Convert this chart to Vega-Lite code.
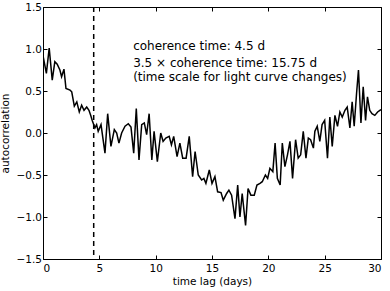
{
  "$schema": "https://vega.github.io/schema/vega-lite/v6.json",
  "width": 338,
  "height": 252,
  "autosize": {"type": "none"},
  "padding": {"left": 43, "top": 7, "right": 9, "bottom": 32},
  "config": {
    "font": "DejaVu Sans",
    "view": {"stroke": "black", "strokeWidth": 1},
    "axis": {
      "domain": false,
      "grid": false,
      "tickColor": "black",
      "tickSize": -4,
      "tickWidth": 1,
      "labelFontSize": 10.5,
      "labelColor": "black",
      "titleFontSize": 10.5,
      "titleFontWeight": "normal",
      "titleColor": "black",
      "labelFont": "DejaVu Sans",
      "titleFont": "DejaVu Sans"
    }
  },
  "datasets": {
    "acf": [
      {"lag": 0.0, "r": 0.92}, {"lag": 0.3, "r": 0.71}, {"lag": 0.55, "r": 1.01}, {"lag": 0.82, "r": 0.63},
      {"lag": 1.05, "r": 0.85}, {"lag": 1.26, "r": 0.82}, {"lag": 1.5, "r": 0.75}, {"lag": 1.65, "r": 0.67},
      {"lag": 1.86, "r": 0.76}, {"lag": 2.04, "r": 0.53}, {"lag": 2.4, "r": 0.51}, {"lag": 2.55, "r": 0.49},
      {"lag": 2.78, "r": 0.32}, {"lag": 3.0, "r": 0.37}, {"lag": 3.22, "r": 0.25}, {"lag": 3.43, "r": 0.33},
      {"lag": 3.64, "r": 0.27}, {"lag": 3.88, "r": 0.31}, {"lag": 4.08, "r": 0.27}, {"lag": 4.23, "r": 0.21},
      {"lag": 4.37, "r": 0.15}, {"lag": 4.61, "r": 0.06}, {"lag": 4.76, "r": 0.1}, {"lag": 4.9, "r": 0.02},
      {"lag": 5.15, "r": 0.1}, {"lag": 5.5, "r": -0.24}, {"lag": 5.74, "r": 0.23}, {"lag": 6.03, "r": -0.16},
      {"lag": 6.33, "r": 0.04}, {"lag": 6.54, "r": 0.0}, {"lag": 6.74, "r": -0.12}, {"lag": 6.98, "r": 0.0},
      {"lag": 7.28, "r": 0.08}, {"lag": 7.57, "r": 0.11}, {"lag": 7.81, "r": 0.07}, {"lag": 8.05, "r": -0.24},
      {"lag": 8.28, "r": 0.29}, {"lag": 8.52, "r": -0.32}, {"lag": 8.76, "r": 0.1}, {"lag": 8.99, "r": 0.12},
      {"lag": 9.2, "r": -0.02}, {"lag": 9.42, "r": 0.23}, {"lag": 9.66, "r": -0.32}, {"lag": 9.86, "r": 0.02},
      {"lag": 10.15, "r": -0.34}, {"lag": 10.45, "r": 0.0}, {"lag": 10.66, "r": -0.1}, {"lag": 10.9, "r": -0.06},
      {"lag": 11.2, "r": -0.04}, {"lag": 11.4, "r": -0.14}, {"lag": 11.6, "r": -0.04}, {"lag": 11.9, "r": -0.28},
      {"lag": 12.15, "r": -0.12}, {"lag": 12.4, "r": -0.3}, {"lag": 12.7, "r": -0.3}, {"lag": 12.98, "r": -0.04},
      {"lag": 13.28, "r": -0.52}, {"lag": 13.5, "r": -0.22}, {"lag": 13.78, "r": -0.5}, {"lag": 14.08, "r": -0.56},
      {"lag": 14.28, "r": -0.54}, {"lag": 14.46, "r": -0.6}, {"lag": 14.76, "r": -0.44}, {"lag": 15.0, "r": -0.6},
      {"lag": 15.26, "r": -0.52}, {"lag": 15.5, "r": -0.7}, {"lag": 15.8, "r": -0.71}, {"lag": 16.0, "r": -0.8},
      {"lag": 16.3, "r": -0.72}, {"lag": 16.5, "r": -0.68}, {"lag": 16.74, "r": -0.74}, {"lag": 17.04, "r": -1.02},
      {"lag": 17.28, "r": -0.62}, {"lag": 17.48, "r": -1.0}, {"lag": 17.68, "r": -0.72}, {"lag": 17.98, "r": -1.1},
      {"lag": 18.2, "r": -0.66}, {"lag": 18.45, "r": -0.74}, {"lag": 18.75, "r": -0.74}, {"lag": 18.99, "r": -0.62},
      {"lag": 19.26, "r": -0.6}, {"lag": 19.46, "r": -0.58}, {"lag": 19.74, "r": -0.5}, {"lag": 19.94, "r": -0.54},
      {"lag": 20.14, "r": -0.42}, {"lag": 20.4, "r": -0.46}, {"lag": 20.6, "r": -0.12}, {"lag": 20.8, "r": -0.54},
      {"lag": 21.05, "r": -0.62}, {"lag": 21.24, "r": -0.12}, {"lag": 21.47, "r": -0.4}, {"lag": 21.7, "r": -0.26},
      {"lag": 21.92, "r": -0.1}, {"lag": 22.15, "r": -0.54}, {"lag": 22.42, "r": -0.08}, {"lag": 22.65, "r": -0.3},
      {"lag": 22.87, "r": -0.26}, {"lag": 23.1, "r": 0.02}, {"lag": 23.34, "r": -0.3}, {"lag": 23.55, "r": -0.06},
      {"lag": 23.75, "r": -0.08}, {"lag": 24.0, "r": -0.18}, {"lag": 24.13, "r": 0.02}, {"lag": 24.34, "r": 0.08},
      {"lag": 24.57, "r": -0.1}, {"lag": 24.77, "r": 0.1}, {"lag": 25.0, "r": 0.15}, {"lag": 25.25, "r": -0.3},
      {"lag": 25.46, "r": 0.19}, {"lag": 25.67, "r": -0.16}, {"lag": 25.91, "r": 0.21}, {"lag": 26.14, "r": 0.08},
      {"lag": 26.35, "r": 0.25}, {"lag": 26.56, "r": 0.19}, {"lag": 26.8, "r": 0.27}, {"lag": 27.0, "r": 0.31},
      {"lag": 27.24, "r": 0.06}, {"lag": 27.44, "r": 0.37}, {"lag": 27.62, "r": 0.08}, {"lag": 27.83, "r": 0.47},
      {"lag": 28.0, "r": 0.75}, {"lag": 28.22, "r": 0.12}, {"lag": 28.42, "r": 0.55}, {"lag": 28.63, "r": 0.15},
      {"lag": 28.8, "r": 0.43}, {"lag": 29.0, "r": 0.27}, {"lag": 29.2, "r": 0.23}, {"lag": 29.45, "r": 0.21},
      {"lag": 29.7, "r": 0.25}, {"lag": 29.9, "r": 0.27}, {"lag": 30.0, "r": 0.28}
    ],
    "notes": [
      {"x": 8.0, "y": 1.03, "label": "coherence time: 4.5 d"},
      {"x": 8.0, "y": 0.83, "label": "3.5 × coherence time: 15.75 d"},
      {"x": 8.0, "y": 0.67, "label": "(time scale for light curve changes)"}
    ],
    "coh": [{"t": 4.5}]
  },
  "layer": [
    {
      "data": {"name": "acf"},
      "mark": {"type": "line", "color": "black", "strokeWidth": 1.5, "clip": true},
      "encoding": {
        "x": {"field": "lag", "type": "quantitative", "scale": {"domain": [0, 30], "nice": false},
              "axis": {"values": [0, 5, 10, 15, 20, 25, 30], "title": "time lag (days)", "labelPadding": 8, "titlePadding": 3}},
        "y": {"field": "r", "type": "quantitative", "scale": {"domain": [-1.5, 1.5], "nice": false},
              "axis": {"values": [-1.5, -1.0, -0.5, 0.0, 0.5, 1.0, 1.5], "format": ".1f", "title": "autocorrelation", "labelPadding": 5.5, "titlePadding": 6}}
      }
    },
    {
      "data": {"name": "coh"},
      "mark": {"type": "rule", "color": "black", "strokeWidth": 1.5, "strokeDash": [5, 4]},
      "encoding": {
        "x": {"field": "t", "type": "quantitative", "axis": null}
      }
    },
    {
      "data": {"name": "notes"},
      "mark": {"type": "text", "align": "left", "baseline": "middle", "fontSize": 12, "font": "DejaVu Sans", "color": "black"},
      "encoding": {
        "x": {"field": "x", "type": "quantitative",
              "axis": {"orient": "top", "values": [0, 5, 10, 15, 20, 25, 30], "labels": false, "title": null}},
        "y": {"field": "y", "type": "quantitative",
              "axis": {"orient": "right", "values": [-1.5, -1.0, -0.5, 0.0, 0.5, 1.0, 1.5], "labels": false, "title": null}},
        "text": {"field": "label"}
      }
    }
  ],
  "resolve": {"axis": {"x": "independent", "y": "independent"}}
}
